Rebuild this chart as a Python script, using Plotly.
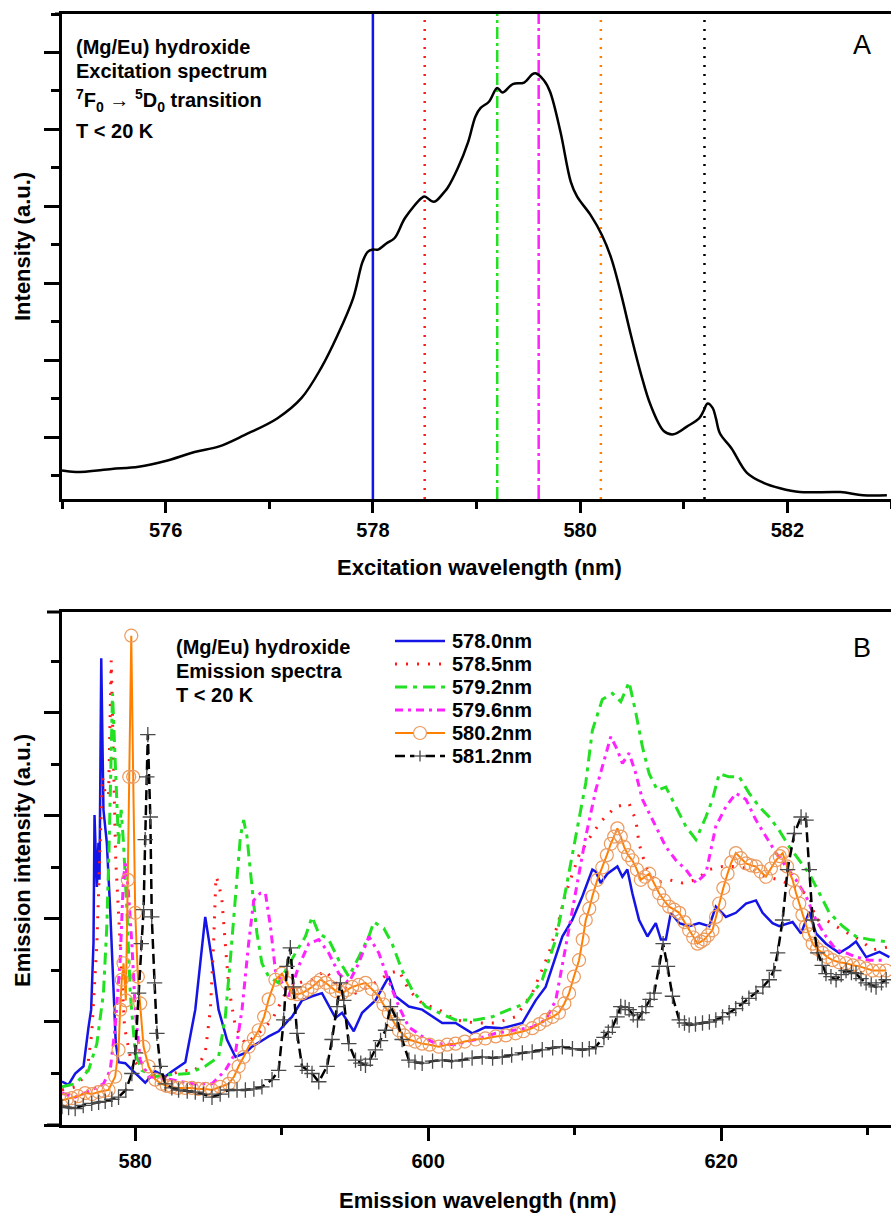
import plotly.graph_objects as go

# ---------------- Panel A: excitation spectrum ----------------
exc_nm = [575.0, 575.13, 575.48, 575.74, 575.99, 576.28, 576.51, 576.76, 577.08, 577.31,
          577.5, 577.66, 577.81, 577.9, 577.95, 578.0, 578.05, 578.13, 578.21, 578.31,
          578.47, 578.5, 578.59, 578.69, 578.72, 578.82, 578.92, 578.99, 579.04, 579.12,
          579.2, 579.25, 579.35, 579.46, 579.54, 579.57, 579.65, 579.71, 579.81, 579.91,
          579.97, 580.1, 580.21, 580.3, 580.39, 580.49, 580.59, 580.68, 580.81, 580.9,
          581.03, 581.15, 581.19, 581.23, 581.28, 581.31, 581.35, 581.46, 581.61, 581.77,
          581.93, 582.12, 582.51, 582.73, 582.96]
exc_int = [0.37, 0.35, 0.39, 0.42, 0.49, 0.61, 0.68, 0.83, 1.05, 1.31,
           1.70, 2.13, 2.61, 3.08, 3.21, 3.24, 3.24, 3.32, 3.39, 3.65,
           3.91, 3.93, 3.86, 3.99, 4.04, 4.30, 4.64, 4.97, 5.08, 5.16,
           5.34, 5.28, 5.39, 5.41, 5.52, 5.53, 5.44, 5.29, 4.77, 4.12,
           3.93, 3.69, 3.43, 3.13, 2.69, 2.13, 1.61, 1.22, 0.88, 0.84,
           0.94, 1.05, 1.14, 1.24, 1.18, 1.05, 0.85, 0.66, 0.34, 0.21,
           0.14, 0.09, 0.09, 0.05, 0.05]

# excitation wavelengths used for the emission spectra
sel_nm = [578.0, 578.5, 579.2, 579.6, 580.2, 581.2]
sel_names = ["578.0nm", "578.5nm", "579.2nm", "579.6nm", "580.2nm", "581.2nm"]

# ---------------- Panel B: emission spectra ----------------
b578_0_x = [575.0, 575.44, 575.90, 576.47, 576.81, 576.99, 577.15, 577.22, 577.38, 577.49,
            577.56, 577.68, 577.83, 578.06, 578.29, 578.52, 578.67, 578.86, 579.32, 579.88,
            580.68, 581.37, 582.05, 582.50, 583.42, 584.10, 584.55, 584.78, 585.24, 585.69,
            586.26, 586.84, 587.52, 587.97, 588.89, 589.11, 589.79, 590.02, 590.48, 590.70,
            591.39, 592.07, 592.75, 593.67, 594.12, 594.92, 595.49, 596.40, 597.31, 597.77,
            598.68, 599.59, 600.96, 601.87, 603.01, 603.92, 605.06, 606.43, 607.34, 608.02,
            608.48, 609.16, 609.84, 610.53, 611.21, 611.44, 611.78, 612.24, 612.92, 613.26,
            613.60, 613.94, 614.40, 614.97, 615.54, 615.89, 616.23, 616.57, 617.14, 617.82,
            618.50, 619.19, 619.64, 620.33, 621.01, 621.70, 622.38, 622.83, 623.51, 623.97,
            624.88, 625.46, 626.02, 626.48, 627.16, 628.07, 628.76, 629.21, 629.90, 630.81,
            631.49]
b578_0_y = [0.42, 0.39, 0.50, 0.57, 0.95, 1.12, 1.77, 3.01, 2.31, 2.74,
            2.38, 4.53, 3.06, 2.74, 2.09, 1.28, 0.80, 0.61, 0.60, 0.52,
            0.41, 0.52, 0.47, 0.52, 0.61, 1.12, 1.76, 2.02, 1.60, 1.12,
            0.83, 0.66, 0.70, 0.76, 0.84, 0.86, 0.91, 0.95, 1.02, 1.05,
            1.21, 1.25, 1.28, 1.04, 1.09, 0.91, 1.09, 1.21, 1.44, 1.25,
            1.15, 1.12, 0.99, 0.99, 0.89, 0.95, 0.94, 0.99, 1.21, 1.34,
            1.54, 1.83, 1.99, 2.22, 2.48, 2.46, 2.35, 2.44, 2.51, 2.41,
            2.48, 2.25, 1.99, 1.83, 1.96, 1.80, 1.80, 2.06, 1.96, 1.93,
            1.96, 1.93, 2.12, 2.02, 2.06, 2.15, 2.18, 2.06, 1.96, 1.93,
            1.97, 1.86, 2.07, 1.86, 1.76, 1.67, 1.73, 1.78, 1.63, 1.68,
            1.63]

b578_5_x = [575.0, 575.90, 576.69, 577.03, 577.38, 577.61, 577.76, 577.95, 578.18, 578.36,
            578.52, 578.67, 578.97, 579.27, 579.66, 580.23, 581.13, 582.05, 583.19, 584.10,
            584.78, 585.13, 585.35, 585.51, 585.69, 585.92, 586.15, 586.38, 586.84, 587.52,
            588.43, 589.34, 590.25, 591.16, 592.07, 592.99, 593.67, 595.04, 595.95, 597.31,
            598.00, 598.68, 599.59, 600.73, 601.87, 603.24, 604.61, 605.97, 607.11, 608.25,
            608.93, 609.39, 610.30, 611.21, 611.89, 612.81, 613.72, 614.18, 614.40, 614.86,
            615.54, 616.45, 617.36, 618.28, 619.19, 620.10, 621.01, 622.15, 623.06, 623.97,
            625.11, 626.02, 626.48, 627.16, 628.30, 629.44, 630.35, 631.49]
b578_5_y = [0.34, 0.37, 0.50, 0.89, 1.76, 2.73, 3.38, 3.22, 3.19, 4.51,
            3.38, 2.57, 1.76, 0.95, 0.66, 0.57, 0.49, 0.47, 0.53, 0.53,
            0.70, 1.12, 1.76, 2.41, 2.35, 2.18, 1.76, 1.34, 0.95, 0.79,
            0.89, 1.02, 1.28, 1.38, 1.41, 1.50, 1.38, 1.28, 1.34, 1.47,
            1.50, 1.31, 1.18, 1.12, 1.02, 0.99, 0.99, 1.05, 1.28, 1.67,
            1.99, 2.25, 2.62, 2.83, 2.96, 3.09, 3.12, 2.96, 2.73, 2.51,
            2.35, 2.38, 2.35, 2.38, 2.48, 2.51, 2.51, 2.48, 2.41, 2.38,
            2.31, 2.22, 1.99, 1.99, 1.89, 1.80, 1.70, 1.73]

b579_2_x = [575.0, 575.90, 576.81, 577.38, 577.83, 578.06, 578.22, 578.36, 578.45, 578.63,
            578.86, 579.04, 579.20, 579.43, 579.66, 580.00, 580.45, 581.37, 582.50, 583.64,
            584.78, 585.69, 586.15, 586.49, 586.84, 587.18, 587.40, 587.63, 587.97, 588.31,
            588.65, 589.11, 589.79, 590.25, 590.94, 591.62, 592.07, 592.53, 593.21, 593.90,
            594.58, 595.26, 595.95, 596.29, 596.97, 597.54, 598.22, 598.91, 599.82, 600.73,
            601.87, 603.24, 604.37, 605.52, 606.66, 607.79, 608.71, 609.39, 610.08, 610.76,
            611.21, 611.89, 612.58, 613.15, 613.72, 614.18, 614.63, 615.09, 615.65, 616.23,
            616.91, 617.59, 618.28, 618.96, 619.41, 619.87, 620.55, 621.24, 621.92, 622.60,
            623.29, 623.97, 624.66, 625.34, 626.02, 626.71, 627.39, 628.30, 629.21, 630.12,
            631.27]
b579_2_y = [0.37, 0.40, 0.53, 0.79, 1.28, 1.93, 2.73, 3.71, 4.19, 3.54,
            2.73, 3.06, 2.73, 2.09, 1.28, 0.70, 0.53, 0.47, 0.49, 0.50,
            0.57, 0.66, 1.05, 1.60, 2.25, 2.80, 2.96, 2.80, 2.31, 1.86,
            1.57, 1.44, 1.38, 1.50, 1.67, 1.83, 2.02, 1.86, 1.80, 1.60,
            1.44, 1.63, 1.83, 1.97, 1.91, 1.76, 1.50, 1.31, 1.15, 1.09,
            1.02, 1.02, 1.05, 1.12, 1.18, 1.41, 1.80, 2.28, 2.80, 3.32,
            3.83, 4.13, 4.19, 4.11, 4.30, 4.00, 3.67, 3.41, 3.25, 3.28,
            3.09, 2.90, 2.77, 2.99, 3.16, 3.41, 3.38, 3.38, 3.22, 3.09,
            2.99, 2.86, 2.70, 2.57, 2.44, 2.25, 2.06, 1.93, 1.83, 1.80,
            1.78]

b579_6_x = [575.0, 575.90, 577.03, 577.83, 578.29, 578.63, 578.97, 579.20, 579.36, 579.54,
            579.77, 580.00, 580.34, 580.91, 582.50, 583.87, 585.24, 586.15, 586.84, 587.29,
            587.74, 588.09, 588.54, 588.89, 589.23, 589.57, 589.91, 590.48, 591.16, 591.85,
            592.53, 593.21, 593.90, 594.58, 595.26, 595.95, 596.63, 597.20, 598.00, 598.68,
            599.59, 600.51, 601.87, 603.24, 604.61, 605.97, 607.11, 608.02, 608.71, 609.39,
            610.08, 610.76, 611.44, 612.01, 612.47, 612.92, 613.26, 613.72, 614.18, 614.63,
            615.09, 615.65, 616.23, 616.91, 617.59, 618.28, 618.96, 619.64, 620.33, 621.01,
            621.70, 622.38, 623.06, 623.75, 624.43, 625.11, 625.80, 626.48, 627.16, 627.85,
            628.53, 629.21, 630.12, 631.27]
b579_6_y = [0.31, 0.27, 0.34, 0.40, 0.53, 0.95, 1.60, 2.41, 2.54, 2.25,
            1.76, 1.12, 0.63, 0.47, 0.44, 0.40, 0.40, 0.53, 0.70, 1.12,
            1.76, 2.18, 2.25, 2.25, 1.93, 1.50, 1.41, 1.25, 1.54, 1.76,
            1.80, 1.67, 1.47, 1.38, 1.57, 1.83, 1.67, 1.44, 1.15, 0.95,
            0.86, 0.79, 0.78, 0.83, 0.89, 0.92, 0.95, 1.02, 1.21, 1.73,
            2.28, 2.80, 3.25, 3.54, 3.77, 3.64, 3.51, 3.61, 3.41, 3.16,
            3.03, 2.86, 2.70, 2.57, 2.48, 2.35, 2.44, 2.90, 3.09, 3.22,
            3.16, 2.96, 2.80, 2.64, 2.51, 2.38, 2.22, 1.99, 1.83, 1.70,
            1.67, 1.63, 1.60, 1.60]

b580_2_x = [575.0, 575.33, 575.67, 576.10, 576.58, 577.05, 577.49, 577.85, 578.18, 578.63,
            578.86, 578.97, 579.08, 579.20, 579.36, 579.49, 579.59, 579.73, 579.86, 580.00,
            580.18, 580.34, 580.57, 580.91, 581.37, 581.80, 582.15, 582.50, 582.90, 583.40,
            583.87, 584.30, 584.80, 585.24, 585.80, 586.38, 586.75, 587.06, 587.40, 587.74,
            588.10, 588.43, 588.80, 589.11, 589.57, 590.02, 590.35, 590.70, 591.05, 591.39,
            591.75, 592.07, 592.40, 592.65, 593.00, 593.33, 593.70, 594.12, 594.45, 594.81,
            595.25, 595.72, 596.15, 596.63, 596.95, 597.31, 597.65, 598.00, 598.35, 598.68,
            599.10, 599.59, 600.10, 600.73, 601.30, 601.87, 602.50, 603.24, 603.90, 604.61,
            605.30, 605.97, 606.50, 607.11, 607.60, 608.02, 608.50, 608.93, 609.30, 609.62,
            609.95, 610.30, 610.55, 610.76, 611.00, 611.21, 611.55, 611.89, 612.20, 612.47,
            612.70, 612.92, 613.15, 613.38, 613.65, 613.94, 614.25, 614.52, 614.80, 615.09,
            615.45, 615.77, 616.10, 616.45, 616.80, 617.14, 617.50, 617.82, 618.10, 618.39,
            618.62, 618.85, 619.10, 619.41, 619.65, 619.87, 620.15, 620.44, 620.70, 621.01,
            621.35, 621.70, 622.05, 622.38, 622.70, 623.06, 623.40, 623.75, 624.00, 624.20,
            624.50, 624.88, 625.10, 625.34, 625.55, 625.80, 626.00, 626.25, 626.55, 626.93,
            627.25, 627.61, 628.05, 628.53, 629.00, 629.44, 629.90, 630.35, 630.80, 631.27]
b580_2_y = [0.24, 0.25, 0.26, 0.28, 0.31, 0.30, 0.32, 0.33, 0.34, 0.47,
            0.73, 1.12, 1.41, 1.57, 1.21, 2.38, 3.38, 4.75, 3.38, 2.06,
            1.44, 1.18, 0.76, 0.57, 0.44, 0.40, 0.38, 0.37, 0.36, 0.36,
            0.36, 0.35, 0.35, 0.34, 0.37, 0.40, 0.47, 0.57, 0.66, 0.76,
            0.84, 0.92, 1.05, 1.22, 1.41, 1.47, 1.38, 1.28, 1.27, 1.28,
            1.31, 1.34, 1.38, 1.41, 1.38, 1.34, 1.30, 1.28, 1.31, 1.34,
            1.36, 1.38, 1.32, 1.25, 1.17, 1.09, 1.00, 0.92, 0.87, 0.83,
            0.81, 0.79, 0.78, 0.76, 0.78, 0.79, 0.81, 0.83, 0.84, 0.86,
            0.87, 0.89, 0.91, 0.94, 0.98, 1.02, 1.05, 1.09, 1.18, 1.28,
            1.44, 1.60, 1.80, 1.99, 2.10, 2.22, 2.38, 2.50, 2.62, 2.73,
            2.80, 2.88, 2.80, 2.70, 2.62, 2.57, 2.48, 2.38, 2.41, 2.44,
            2.34, 2.25, 2.18, 2.12, 2.09, 2.06, 1.97, 1.89, 1.82, 1.76,
            1.78, 1.80, 1.84, 1.89, 2.02, 2.15, 2.30, 2.44, 2.55, 2.64,
            2.59, 2.54, 2.52, 2.51, 2.46, 2.41, 2.49, 2.57, 2.61, 2.64,
            2.51, 2.38, 2.26, 2.15, 2.04, 1.93, 1.85, 1.76, 1.71, 1.67,
            1.63, 1.60, 1.58, 1.57, 1.55, 1.54, 1.52, 1.50, 1.50, 1.50]

b581_2_x = [575.0, 575.45, 575.90, 576.45, 577.03, 577.50, 577.95, 578.40, 578.86, 579.36,
            579.77, 580.00, 580.23, 580.41, 580.57, 580.68, 580.79, 580.86, 581.03, 581.13,
            581.32, 581.48, 581.71, 582.05, 582.50, 582.96, 583.55, 584.10, 584.65, 585.24,
            585.80, 586.38, 586.95, 587.52, 588.10, 588.65, 589.34, 589.79, 590.14, 590.36,
            590.59, 590.82, 591.05, 591.39, 591.75, 592.07, 592.53, 593.10, 593.44, 593.78,
            594.01, 594.24, 594.58, 595.04, 595.40, 595.72, 596.05, 596.40, 596.75, 597.09,
            597.43, 597.88, 598.22, 598.68, 599.10, 599.59, 600.30, 600.96, 601.60, 602.32,
            603.00, 603.69, 604.40, 605.06, 605.70, 606.43, 607.10, 607.79, 608.50, 609.16,
            609.85, 610.53, 611.00, 611.44, 612.00, 612.30, 612.58, 612.90, 613.15, 613.45,
            613.72, 614.00, 614.29, 614.60, 614.86, 615.15, 615.43, 615.77, 616.04, 616.34,
            616.68, 617.14, 617.50, 617.82, 618.25, 618.73, 619.20, 619.64, 620.10, 620.55,
            621.00, 621.46, 621.90, 622.38, 622.85, 623.29, 623.60, 623.86, 624.20, 624.54,
            625.00, 625.46, 625.80, 626.02, 626.25, 626.59, 626.90, 627.16, 627.50, 627.85,
            628.20, 628.53, 628.90, 629.21, 629.55, 629.90, 630.25, 630.58, 630.95, 631.27]
b581_2_y = [0.18, 0.17, 0.16, 0.19, 0.21, 0.22, 0.23, 0.25, 0.27, 0.34,
            0.50, 0.70, 1.28, 1.76, 2.09, 2.77, 3.38, 3.79, 2.99, 2.02,
            1.38, 0.89, 0.57, 0.40, 0.36, 0.34, 0.33, 0.32, 0.30, 0.27,
            0.30, 0.34, 0.34, 0.34, 0.35, 0.37, 0.44, 0.53, 1.02, 1.54,
            1.72, 1.34, 0.89, 0.57, 0.53, 0.50, 0.42, 0.57, 0.83, 1.15,
            1.38, 1.21, 0.79, 0.63, 0.60, 0.58, 0.64, 0.73, 0.82, 0.92,
            1.15, 1.02, 0.83, 0.63, 0.61, 0.60, 0.62, 0.63, 0.62, 0.63,
            0.65, 0.66, 0.65, 0.66, 0.68, 0.70, 0.71, 0.73, 0.75, 0.76,
            0.74, 0.73, 0.74, 0.76, 0.85, 0.90, 0.95, 1.05, 1.15, 1.14,
            1.12, 1.07, 1.02, 1.09, 1.15, 1.22, 1.28, 1.54, 1.76, 1.54,
            1.25, 1.02, 0.99, 0.97, 0.98, 0.99, 1.00, 1.02, 1.05, 1.09,
            1.13, 1.18, 1.23, 1.28, 1.34, 1.41, 1.50, 1.67, 1.99, 2.48,
            2.83, 2.99, 2.96, 2.48, 1.99, 1.67, 1.55, 1.47, 1.44, 1.41,
            1.46, 1.50, 1.48, 1.47, 1.42, 1.38, 1.36, 1.34, 1.38, 1.41]

# ---------------- Figure ----------------
W, H = 891, 1214
ML, MR, MT, MB = 62, 0, 14, 89
PW, PH = W - ML - MR, H - MT - MB
A_BOTTOM_PX, B_TOP_PX, B_BOTTOM_PX = 499, 612, 1125


def py2paper(py):
    return (H - MB - py) / PH


def px2paper(px):
    return (px - ML) / PW


FONT = "Liberation Sans"
sel_colors = ["#1414e6", "#ff1a1a", "#22e022", "#ff22ff", "#ff8000", "#000000"]
sel_dash_a = ["solid", "2px,7px", "12px,4px,3px,4px", "14px,4px,3px,4px", "2px,7px", "2px,7px"]

PEACH = "#ec9a5e"
CROSS = "#4a4a4a"
styles_b = [
    (dict(color="#1414e6", width=2.5, dash="solid"), None),
    (dict(color="#ff1a1a", width=3, dash="2px,9px"), None),
    (dict(color="#22e022", width=3, dash="12px,6px,4px,6px"), None),
    (dict(color="#ff22ff", width=3, dash="8px,5px,3px,5px"), None),
    (dict(color="#ff8000", width=2, dash="solid"),
     dict(symbol="circle-open", size=13, color=PEACH, line=dict(width=1.2, color=PEACH))),
    (dict(color="#000000", width=2.5, dash="10px,5px"),
     dict(symbol="cross-thin-open", size=11, color=CROSS, line=dict(width=1.3, color=CROSS))),
]
series_b = [(b578_0_x, b578_0_y), (b578_5_x, b578_5_y), (b579_2_x, b579_2_y),
            (b579_6_x, b579_6_y), (b580_2_x, b580_2_y), (b581_2_x, b581_2_y)]

fig = go.Figure()

fig.add_trace(go.Scatter(x=exc_nm, y=exc_int, mode="lines", line=dict(color="black", width=2.5),
                         line_shape="spline", showlegend=False, xaxis="x", yaxis="y"))

for nm, col, dsh in zip(sel_nm, sel_colors, sel_dash_a):
    fig.add_shape(type="line", xref="x", yref="y domain", x0=nm, x1=nm, y0=0, y1=1,
                  line=dict(color=col, width=2.5, dash=dsh), layer="below")

for (xs, ys), (ln, mk), name in zip(series_b, styles_b, sel_names):
    fig.add_trace(go.Scatter(x=xs, y=ys, name=name, mode="lines+markers" if mk else "lines",
                             line=ln, marker=mk, showlegend=False, xaxis="x2", yaxis="y2"))

axis_common = dict(showline=True, linecolor="black", linewidth=3, showgrid=False, zeroline=False,
                   ticks="outside", tickcolor="black", tickwidth=2.5)
tickfont = dict(family=FONT, size=20, color="black", weight="bold")

fig.update_layout(
    width=W, height=H, margin=dict(l=ML, r=MR, t=MT, b=MB, pad=0),
    paper_bgcolor="white", plot_bgcolor="white",
    showlegend=False,
    xaxis=dict(axis_common, domain=[0, 1], anchor="y", range=[575, 583], mirror=True,
               tick0=576, dtick=2, ticklen=11, tickfont=tickfont,
               minor=dict(tick0=575, dtick=1, ticklen=7, ticks="outside", tickcolor="black", tickwidth=2.5)),
    yaxis=dict(axis_common, domain=[py2paper(A_BOTTOM_PX), 1], anchor="x", range=[0, 6.30],
               showticklabels=False, tick0=0.8, dtick=1, ticklen=15,
               minor=dict(tick0=0.3, dtick=1, ticklen=8, ticks="outside", tickcolor="black", tickwidth=2.5)),
    xaxis2=dict(axis_common, domain=[0, 1], anchor="y2", range=[575, 631.6], mirror=True,
                tick0=580, dtick=20, ticklen=13, tickfont=tickfont, ticklabelstandoff=3,
                minor=dict(tick0=590, dtick=20, ticklen=7, ticks="outside", tickcolor="black", tickwidth=2.5)),
    yaxis2=dict(axis_common, domain=[0, py2paper(B_TOP_PX)], anchor="x2", range=[0, 4.98],
                showticklabels=False, tick0=0, dtick=1, ticklen=15,
                minor=dict(tick0=0.5, dtick=1, ticklen=8, ticks="outside", tickcolor="black", tickwidth=2.5)),
)

# frame lines extend a little to the left of the y axis
for py, x0 in ((MT, 55), (B_TOP_PX, 47), (B_BOTTOM_PX, 47)):
    fig.add_shape(type="line", xref="paper", yref="paper", x0=px2paper(x0), x1=0,
                  y0=py2paper(py), y1=py2paper(py), line=dict(color="black", width=3))

# ---- legend for panel B (key samples + labels) ----
LEG_X0, LEG_X1, LEG_TX, LEG_Y0, LEG_DY = 395, 445, 450, 641, 23
leg_font = dict(family=FONT, size=20, color="black", weight="bold")
for i, ((ln, mk), name) in enumerate(zip(styles_b, sel_names)):
    ypx = LEG_Y0 + i * LEG_DY
    yc = py2paper(ypx)
    fig.add_shape(type="line", xref="paper", yref="paper", x0=px2paper(LEG_X0), x1=px2paper(LEG_X1),
                  y0=yc, y1=yc, line=dict(color=ln["color"], width=ln["width"], dash=ln["dash"]))
    xm = (LEG_X0 + LEG_X1) / 2
    if mk is not None and mk["symbol"] == "circle-open":
        r = 6.5
        fig.add_shape(type="circle", xref="paper", yref="paper",
                      x0=px2paper(xm - r), x1=px2paper(xm + r),
                      y0=py2paper(ypx + r), y1=py2paper(ypx - r),
                      fillcolor="white", line=dict(color=PEACH, width=1.2))
    elif mk is not None:
        h = 5.5
        fig.add_shape(type="rect", xref="paper", yref="paper",
                      x0=px2paper(xm - h), x1=px2paper(xm + h),
                      y0=py2paper(ypx + 2), y1=py2paper(ypx - 2),
                      fillcolor="white", line=dict(width=0))
        fig.add_shape(type="line", xref="paper", yref="paper", x0=px2paper(xm - h), x1=px2paper(xm + h),
                      y0=yc, y1=yc, line=dict(color=CROSS, width=1.3))
        fig.add_shape(type="line", xref="paper", yref="paper", x0=px2paper(xm), x1=px2paper(xm),
                      y0=py2paper(ypx - h), y1=py2paper(ypx + h),
                      line=dict(color=CROSS, width=1.3))
    fig.add_annotation(text=name, x=px2paper(LEG_TX), y=yc, xref="paper", yref="paper",
                       xanchor="left", yanchor="middle", showarrow=False, font=leg_font)

txt = dict(family=FONT, size=20, color="black", weight="bold")
annots = [
    ("(Mg/Eu) hydroxide", 74, 47),
    ("Excitation spectrum", 74, 71),
    ("<sup>7</sup>F<sub>0</sub> → <sup>5</sup>D<sub>0</sub> transition", 74, 100),
    ("T < 20 K", 74, 131),
    ("(Mg/Eu) hydroxide", 174, 647),
    ("Emission spectra", 174, 671),
    ("T < 20 K", 174, 695),
]
for t, px, py in annots:
    fig.add_annotation(text=t, x=px2paper(px), y=py2paper(py), xref="paper", yref="paper",
                       xanchor="left", yanchor="middle", showarrow=False, font=txt)

for t, py in (("A", 45), ("B", 648)):
    fig.add_annotation(text=t, x=px2paper(862), y=py2paper(py), xref="paper", yref="paper",
                       xanchor="center", yanchor="middle", showarrow=False,
                       font=dict(family=FONT, size=27, color="black"))

title_font = dict(family=FONT, size=22, color="black", weight="bold")
titles = [
    ("Excitation wavelength (nm)", 479, 567, 0),
    ("Emission wavelength (nm)", 478, 1200, 0),
    ("Intensity (a.u.)", 22, 247, -90),
    ("Emission intensity (a.u.)", 22, 861, -90),
]
for t, px, py, ang in titles:
    fig.add_annotation(text=t, x=px2paper(px), y=py2paper(py), xref="paper", yref="paper",
                       xanchor="center", yanchor="middle", showarrow=False, textangle=ang,
                       font=title_font)

fig.write_html("out.html")
